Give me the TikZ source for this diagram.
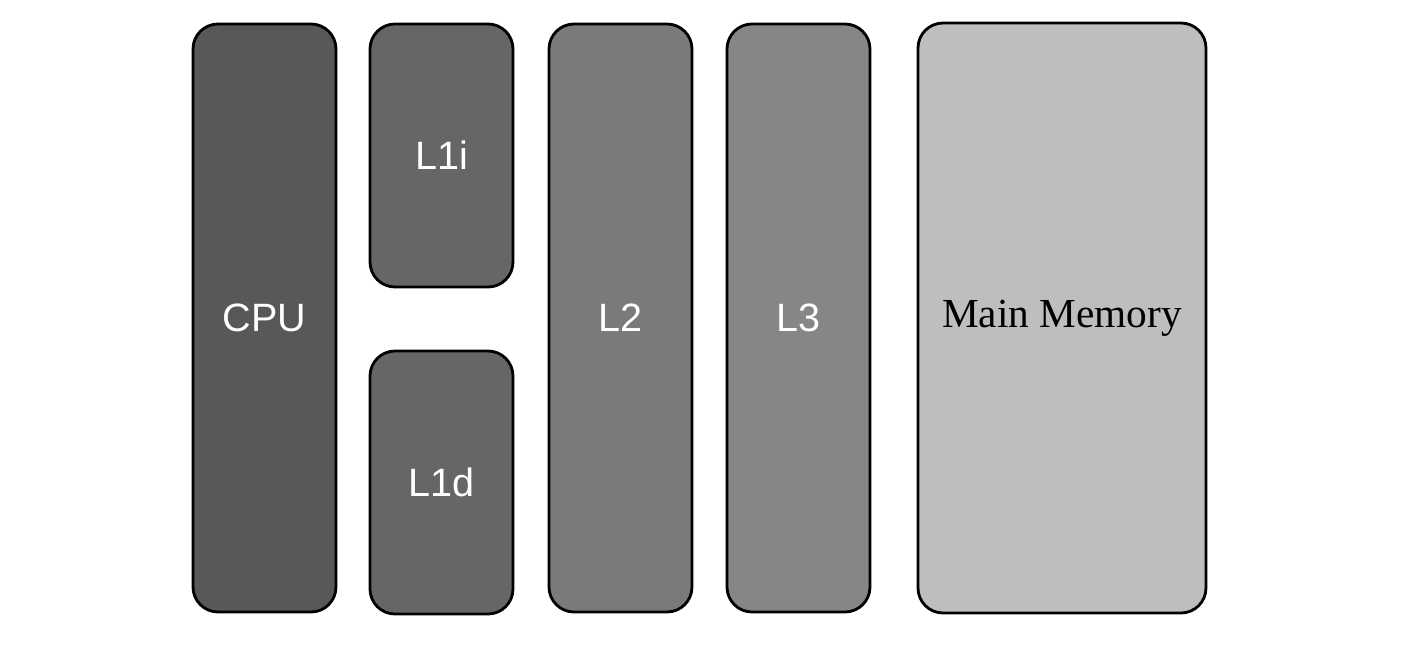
\documentclass[tikz,border=0pt]{standalone}
\usepackage{fontspec}
\setmainfont{Liberation Serif}
\setsansfont{Liberation Sans}
\usepackage{xcolor}
\usepackage{tikz}
\usetikzlibrary{positioning}

\definecolor{cpugray}{RGB}{88,88,88}
\definecolor{lonegray}{RGB}{102,102,102}
\definecolor{ltwogray}{RGB}{122,122,122}
\definecolor{lthreegray}{RGB}{134,134,134}
\definecolor{memgray}{RGB}{190,190,190}

\begin{document}
\begin{tikzpicture}[
    unit/.style={rectangle, draw, line width=1.6pt, rounded corners=0.5cm, minimum width=2.86cm, align=center, inner sep=0pt, outer sep=0pt},
    level/.style={unit, text=white, font=\sffamily\fontsize{22.5}{26}\selectfont},
    tall/.style={minimum height=11.76cm},
    half/.style={minimum height=5.26cm},
]
    \useasboundingbox (0,0) rectangle (28.36,-12.9);

    % CPU on the left
    \node[level, tall, fill=cpugray] (cpu) at (5.29,-6.36) {CPU};

    % split first level
    \node[level, half, fill=lonegray, right=0.68cm of cpu.north east, anchor=north west] (lonei) {L1i};
    \node[level, half, fill=lonegray, below=1.28cm of lonei] (loned) {L1d};

    % shared levels
    \node[level, tall, fill=ltwogray, right=0.72cm of lonei.north east, anchor=north west] (ltwo) {L2};
    \node[level, tall, fill=lthreegray, right=0.7cm of ltwo] (lthree) {L3};

    % memory
    \node[unit, minimum width=5.76cm, minimum height=11.8cm, fill=memgray, font=\rmfamily\fontsize{23.5}{28}\selectfont, right=0.96cm of lthree] (mem) {Main Memory};

\end{tikzpicture}
\end{document}
